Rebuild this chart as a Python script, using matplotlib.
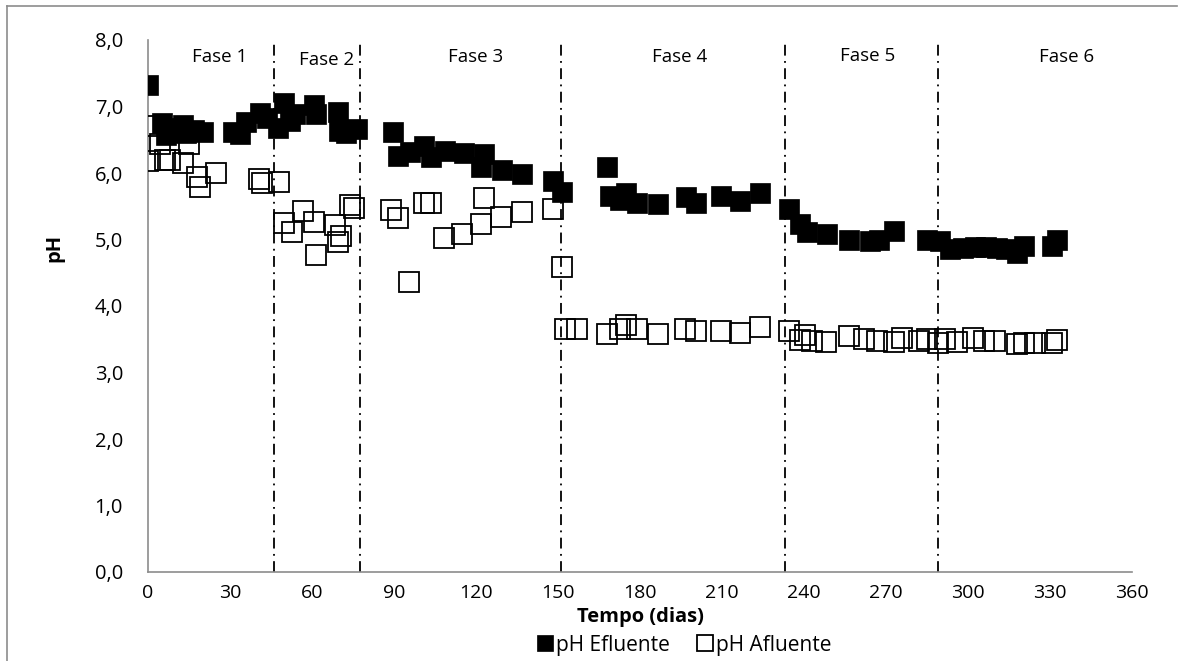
import numpy as np
import matplotlib
matplotlib.use('Agg')
import matplotlib.pyplot as plt
from matplotlib.lines import Line2D

plt.rcParams['font.family'] = ['Open Sans', 'DejaVu Sans']

# pH Efluente (filled squares)
dias_ef = [0, 5, 6.5, 8, 10, 12.8, 14, 17, 20, 31, 33.5, 36, 41, 43.5,
           47.5, 49.8, 52, 53.8, 60.7, 61.5, 69.5, 70, 72.5, 76.5,
           89.6, 91.4, 95.8, 101, 103.5, 108.7, 115.7, 123, 122, 129.5, 137, 148, 151.5,
           168, 169, 172.6, 175, 179, 186.6, 197, 200.5, 209.6, 216.6, 224,
           234.5, 238.5, 241, 248.4, 256.5, 264, 267.5, 273, 285,
           289.8, 293.4, 298, 302.6, 306.5, 310.6, 314, 318, 320.5, 330.8, 332.6]
ph_ef = [7.32, 6.75, 6.57, 6.68, 6.62, 6.72, 6.6, 6.65, 6.62, 6.62, 6.58, 6.77, 6.9, 6.83,
         6.68, 7.05, 6.78, 6.89, 7.02, 6.88, 6.92, 6.63, 6.6, 6.66,
         6.62, 6.26, 6.32, 6.41, 6.24, 6.33, 6.3, 6.29, 6.09, 6.05, 5.98, 5.88, 5.71,
         6.09, 5.65, 5.59, 5.7, 5.55, 5.53, 5.64, 5.55, 5.65, 5.58, 5.7,
         5.46, 5.23, 5.11, 5.08, 4.99, 4.98, 4.99, 5.13, 4.99,
         4.98, 4.86, 4.87, 4.89, 4.88, 4.87, 4.86, 4.8, 4.9, 4.9, 5.0]

# pH Afluente (open squares)
dias_af = [0.4, 0, 4.4, 6.2, 8, 12.8, 15, 18, 19, 25, 40.6, 41.7,
           48, 49.8, 52.7, 56.7, 60.7, 61.5, 68.4, 69.5, 70.6, 74, 75.5,
           89, 91.4, 95.5, 101, 103.5, 108.3, 115, 122, 123, 129, 137, 148, 151.5,
           152.6, 157, 168, 172.5, 175, 179, 186.6, 196.6, 200.5, 209.6, 216.6, 224,
           234.5, 238.5, 240.4, 243, 248, 256.5, 262, 266.8, 273, 276, 282, 285,
           289, 291.6, 296, 302, 306, 310, 318, 320.5, 324.6, 330.8, 332.6]
ph_af = [6.71, 6.18, 6.44, 6.2, 6.2, 6.15, 6.44, 5.94, 5.79, 6.0, 5.91, 5.85,
         5.86, 5.25, 5.11, 5.43, 5.26, 4.77, 5.22, 4.96, 5.05, 5.52, 5.47,
         5.44, 5.32, 4.36, 5.55, 5.55, 5.02, 5.08, 5.23, 5.62, 5.34, 5.41, 5.46, 4.59,
         3.65, 3.65, 3.58, 3.65, 3.71, 3.65, 3.58, 3.65, 3.62, 3.62, 3.59, 3.68,
         3.62, 3.49, 3.56, 3.47, 3.46, 3.55, 3.5, 3.47, 3.46, 3.52, 3.47, 3.5,
         3.44, 3.5, 3.46, 3.52, 3.48, 3.47, 3.43, 3.44, 3.44, 3.44, 3.49]

# phase limits and labels
limites = [46, 77.6, 151, 233, 289]
fases = ['Fase 1', 'Fase 2', 'Fase 3', 'Fase 4', 'Fase 5', 'Fase 6']
fase_x = [26.3, 65.5, 120, 194.6, 263.4, 336]
fase_y = [7.74, 7.7, 7.74, 7.74, 7.76, 7.74]

fig = plt.figure(figsize=(11.83, 6.61), dpi=100)
ax = fig.add_axes([148/1183, 1 - 572/661, (1132-148)/1183, (572-40)/661])

# outer chart border
fig.add_artist(Line2D([7/1183, 7/1183], [0, 1 - 6/661], transform=fig.transFigure, color='#8c8c8c', lw=1.2))
fig.add_artist(Line2D([7/1183, 1177/1183], [1 - 6/661, 1 - 6/661], transform=fig.transFigure, color='#8c8c8c', lw=1.2))

ax.plot(dias_ef, ph_ef, linestyle='none', marker='s', markersize=14.5,
        mfc='black', mec='black', mew=0.5, label='pH Efluente', zorder=3)
ax.plot(dias_af, ph_af, linestyle='none', marker='s', markersize=14.5,
        mfc='none', mec='black', mew=1.3, label='pH Afluente', zorder=4)

for lx in limites:
    ax.plot([lx, lx], [0, 8], color='black', lw=1.3, linestyle=(0, (6, 3, 1, 3)), zorder=2)

for t, fx, fy in zip(fases, fase_x, fase_y):
    ax.text(fx, fy, t, ha='center', va='center', fontsize=13.5)

ax.set_xlim(0, 360)
ax.set_ylim(0, 8)
ax.set_xticks(np.arange(0, 361, 30))
ax.set_yticks(np.arange(0, 8.1, 1))
ax.set_yticklabels([f'{v:.1f}'.replace('.', ',') for v in np.arange(0, 8.1, 1)])
ax.tick_params(axis='x', length=0, labelsize=14, pad=9)
ax.tick_params(axis='y', length=0, labelsize=14.5, pad=18)

for s in ['top', 'right']:
    ax.spines[s].set_visible(False)
for s in ['left', 'bottom']:
    ax.spines[s].set_color('#8c8c8c')
    ax.spines[s].set_linewidth(1.2)

ax.set_xlabel('Tempo (dias)', fontsize=14.5, fontweight='bold', labelpad=3)
ax.set_ylabel('pH', fontsize=14.5, fontweight='bold')
ax.yaxis.set_label_coords(-0.085, 0.61)

ax.legend(loc='center', bbox_to_anchor=(683/1183, 1 - 645/661), bbox_transform=fig.transFigure,
          ncol=2, frameon=False, fontsize=15, handletextpad=0.0, columnspacing=1.2,
          markerscale=0.8, handlelength=1.0)

fig.savefig('out.png', dpi=100)
